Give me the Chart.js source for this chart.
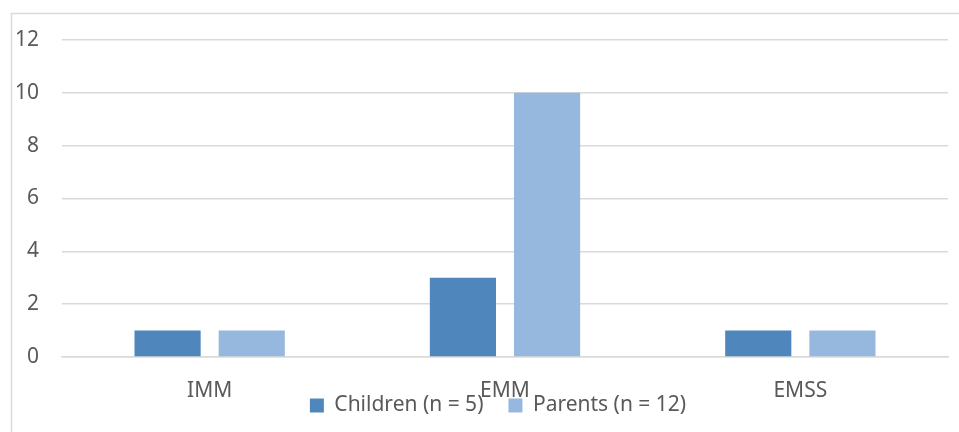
<!DOCTYPE html>
<html>
<head>
<meta charset="utf-8">
<script src="https://cdn.jsdelivr.net/npm/chart.js@4/dist/chart.umd.min.js"></script>
<style>
  body { margin: 0; background: #fff; }
  #wrap { width: 959px; height: 432px; }
</style>
</head>
<body>
<div id="wrap"><canvas id="container" width="959" height="432"></canvas></div>
<script>
// values
var categories = ['IMM', 'EMM', 'EMSS'];
var childrenCounts = [1, 3, 1];
var parentsCounts = [1, 10, 1];
var seriesNames = ['Children (n = 5)', 'Parents (n = 12)'];

var textGray = '#595959';
var gridGray = '#d9d9d9';

// frame round the chart, like the office chart border
var frame = {
  id: 'frame',
  beforeDraw: function(chart) {
    var ctx = chart.ctx;
    ctx.save();
    ctx.fillStyle = '#fff';
    ctx.fillRect(0, 0, chart.width, chart.height);
    ctx.strokeStyle = gridGray;
    ctx.lineWidth = 1.5;
    ctx.strokeRect(11.5, 13.5, 1000, 500);
    ctx.restore();
  },
  // legend sits a bit right of the middle and a bit higher in the original
  afterLayout: function(chart) {
    if (chart.legend) {
      chart.legend.left += 24;
      chart.legend.right += 24;
      chart.legend.top -= 6;
      chart.legend.bottom -= 6;
    }
  }
};

var ctx = document.getElementById('container');
var chart = new Chart(ctx, {
  type: 'bar',
  data: {
    labels: categories,
    datasets: [{
      label: seriesNames[0],
      data: childrenCounts,
      backgroundColor: '#4f87bd',
      borderWidth: 0
    }, {
      label: seriesNames[1],
      data: parentsCounts,
      backgroundColor: '#97b8de',
      borderWidth: 0
    }]
  },
  options: {
    responsive: false,
    animation: false,
    devicePixelRatio: 1,
    layout: {
      padding: { top: 40, right: 11, bottom: 0, left: 0 }
    },
    datasets: {
      bar: { categoryPercentage: 0.57, barPercentage: 0.786 }
    },
    plugins: {
      tooltip: { enabled: false },
      legend: {
        position: 'bottom',
        labels: {
          color: textGray,
          font: { family: 'Noto Sans', size: 21 },
          boxWidth: 14,
          boxHeight: 14,
          padding: 25
        }
      }
    },
    scales: {
      x: {
        grid: { display: false, drawTicks: false },
        border: { display: true, color: gridGray, width: 1.5 },
        ticks: {
          color: textGray,
          font: { family: 'Noto Sans', size: 21 },
          padding: 21
        },
        // the x labels overlap the legend in the original, so the axis is kept short
        // and its labels are not clipped to the axis box
        afterFit: function(scale) {
          scale.height = 19;
          scale._computeLabelArea = function() { return undefined; };
        }
      },
      y: {
        min: 0,
        max: 12,
        ticks: {
          stepSize: 2,
          color: textGray,
          font: { family: 'Noto Sans', size: 21 },
          padding: 23
        },
        grid: { color: gridGray, lineWidth: 1.5, drawTicks: false },
        border: { display: false },
        afterFit: function(scale) { scale.width = 62; }
      }
    }
  },
  plugins: [frame]
});
</script>
</body>
</html>
